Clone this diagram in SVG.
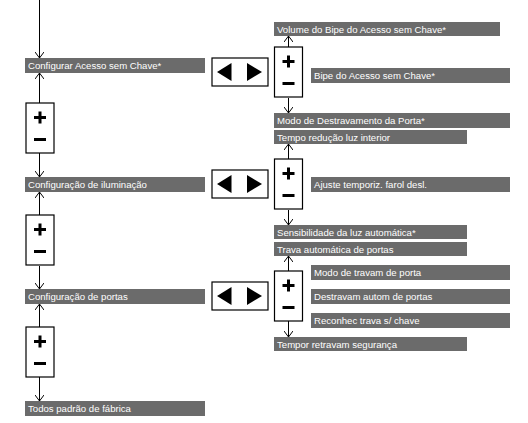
<svg xmlns="http://www.w3.org/2000/svg" width="528" height="423" viewBox="0 0 528 423">
<style>
.bar{fill:#6b6b6b}
.lbl{font-family:"Liberation Sans",Arial,sans-serif;font-size:9.6px;fill:#ffffff}
.box{fill:#ffffff;stroke:#000000;stroke-width:1.2}
.sym{fill:#000000}
.con{stroke:#000000;stroke-width:1;fill:none}
</style>
<defs>
<marker id="ah" viewBox="0 0 6 9" refX="6" refY="4.5" markerWidth="6" markerHeight="9" markerUnits="userSpaceOnUse" orient="auto">
<path d="M0,0 L6,4.5 L0,9" fill="none" stroke="#000" stroke-width="1"/>
</marker>
<g id="pm">
<rect class="box" x="0" y="0" width="28" height="50"/>
<rect class="sym" x="8" y="13" width="12" height="3"/>
<rect class="sym" x="12.5" y="8.5" width="3" height="12"/>
<rect class="sym" x="8" y="35" width="12" height="3"/>
</g>
<g id="lr">
<rect class="box" x="0" y="0" width="56" height="28"/>
<polygon class="sym" points="5,14 19.5,5 19.5,23"/>
<polygon class="sym" points="35,5 35,23 50,14"/>
</g>
</defs>
<g id="connectors">
<line class="con" x1="39.5" y1="0" x2="39.5" y2="58" marker-end="url(#ah)"/>
<line class="con" x1="39.5" y1="103" x2="39.5" y2="73" marker-end="url(#ah)"/>
<line class="con" x1="39.5" y1="153" x2="39.5" y2="177" marker-end="url(#ah)"/>
<line class="con" x1="39.5" y1="215" x2="39.5" y2="192" marker-end="url(#ah)"/>
<line class="con" x1="39.5" y1="266" x2="39.5" y2="289" marker-end="url(#ah)"/>
<line class="con" x1="39.5" y1="327" x2="39.5" y2="304" marker-end="url(#ah)"/>
<line class="con" x1="39.5" y1="377" x2="39.5" y2="401" marker-end="url(#ah)"/>
<line class="con" x1="288.5" y1="47" x2="288.5" y2="36" marker-end="url(#ah)"/>
<line class="con" x1="288.5" y1="98" x2="288.5" y2="113" marker-end="url(#ah)"/>
<line class="con" x1="288.5" y1="159" x2="288.5" y2="144" marker-end="url(#ah)"/>
<line class="con" x1="288.5" y1="210" x2="288.5" y2="225" marker-end="url(#ah)"/>
<line class="con" x1="288.5" y1="272" x2="288.5" y2="256" marker-end="url(#ah)"/>
<line class="con" x1="288.5" y1="321" x2="288.5" y2="337" marker-end="url(#ah)"/>
</g>
<g id="n-acesso"><rect class="bar" x="25" y="58" width="180" height="15"/><text class="lbl" x="28" y="69">Configurar Acesso sem Chave*</text></g>
<g id="n-ilum"><rect class="bar" x="25" y="177" width="180" height="15"/><text class="lbl" x="28" y="188">Configuração de iluminação</text></g>
<g id="n-portas"><rect class="bar" x="25" y="289" width="180" height="15"/><text class="lbl" x="28" y="300">Configuração de portas</text></g>
<g id="n-todos"><rect class="bar" x="25" y="401" width="180" height="15"/><text class="lbl" x="28" y="412">Todos padrão de fábrica</text></g>
<g id="pm-1"><use href="#pm" x="26" y="103"/></g>
<g id="pm-2"><use href="#pm" x="26" y="215"/></g>
<g id="pm-3"><use href="#pm" x="26" y="327"/></g>
<g id="lr-1"><use href="#lr" x="212" y="58"/></g>
<g id="lr-2"><use href="#lr" x="212" y="170"/></g>
<g id="lr-3"><use href="#lr" x="212" y="282"/></g>
<g id="pm-a"><use href="#pm" x="274.5" y="47"/></g>
<g id="pm-b"><use href="#pm" x="274.5" y="159"/></g>
<g id="pm-c"><use href="#pm" x="274.5" y="271"/></g>
<g id="n-volume"><rect class="bar" x="274" y="22" width="226" height="14"/><text class="lbl" x="277" y="32.5">Volume do Bipe do Acesso sem Chave*</text></g>
<g id="n-bipe"><rect class="bar" x="311" y="68" width="199" height="15"/><text class="lbl" x="314" y="79">Bipe do Acesso sem Chave*</text></g>
<g id="n-destrav"><rect class="bar" x="274" y="113" width="236" height="15"/><text class="lbl" x="277" y="124">Modo de Destravamento da Porta*</text></g>
<g id="n-tempo"><rect class="bar" x="274" y="130" width="193" height="14"/><text class="lbl" x="277" y="140.5">Tempo redução luz interior</text></g>
<g id="n-ajuste"><rect class="bar" x="311" y="177" width="199" height="15"/><text class="lbl" x="314" y="188">Ajuste temporiz. farol desl.</text></g>
<g id="n-sens"><rect class="bar" x="274" y="225" width="193" height="14"/><text class="lbl" x="277" y="235.5">Sensibilidade da luz automática*</text></g>
<g id="n-trava"><rect class="bar" x="274" y="242" width="193" height="14"/><text class="lbl" x="277" y="252.5">Trava automática de portas</text></g>
<g id="n-modotrav"><rect class="bar" x="311" y="265" width="199" height="15"/><text class="lbl" x="314" y="276">Modo de travam de porta</text></g>
<g id="n-destautom"><rect class="bar" x="311" y="289" width="199" height="15"/><text class="lbl" x="314" y="300">Destravam autom de portas</text></g>
<g id="n-reconhec"><rect class="bar" x="311" y="313" width="199" height="15"/><text class="lbl" x="314" y="324">Reconhec trava s/ chave</text></g>
<g id="n-retrav"><rect class="bar" x="274" y="337" width="193" height="14"/><text class="lbl" x="277" y="347.5">Tempor retravam segurança</text></g>
</svg>
